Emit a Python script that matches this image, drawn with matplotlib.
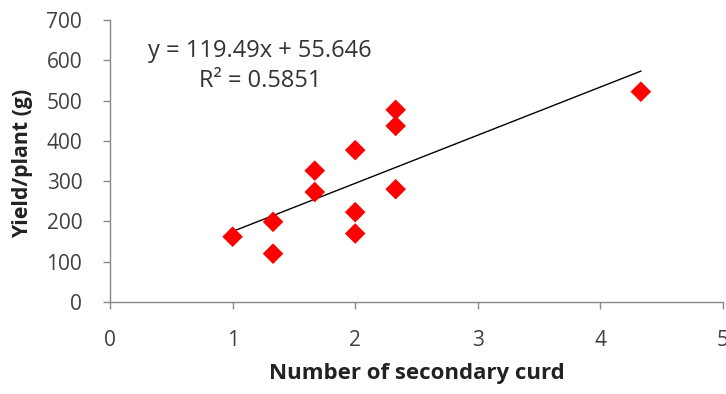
import matplotlib
matplotlib.use("Agg")
import matplotlib.pyplot as plt
import numpy as np

plt.rcParams['font.family'] = ['Open Sans', 'DejaVu Sans']

x_vals = [1.0, 1.33, 1.33, 1.67, 1.67, 2.0, 2.0, 2.0, 2.33, 2.33, 2.33, 4.33]
y_vals = [162, 199, 120, 326, 273, 377, 223, 170, 477, 437, 280, 522]
slope = 119.49
intercept = 55.646
r2 = 0.5851
x_ticks = [0, 1, 2, 3, 4, 5]
y_ticks = [0, 100, 200, 300, 400, 500, 600, 700]

fig = plt.figure(figsize=(7.26, 3.94), dpi=100)
ax = fig.add_axes([110/726, 1 - 302/394, (723 - 110)/726, (302 - 20)/394])

ax.scatter(x_vals, y_vals, marker='D', s=10.5**2, color='#ff0000', edgecolors='none', zorder=3)
xl = np.array([min(x_vals), max(x_vals)])
ax.plot(xl, slope * xl + intercept, color='black', lw=1.0, zorder=2)

ax.set_xlim(0, 5)
ax.set_ylim(0, 700)
ax.set_xticks(x_ticks)
ax.set_yticks(y_ticks)
for s in ['top', 'right']:
    ax.spines[s].set_visible(False)
for s in ['left', 'bottom']:
    ax.spines[s].set_color('#888888')
    ax.spines[s].set_linewidth(1.0)
ax.tick_params(axis='both', colors='#888888', labelcolor='#404040', labelsize=15,
               length=5, width=1.0, direction='out')
ax.tick_params(axis='x', pad=15)
ax.tick_params(axis='y', pad=15)

ax.set_xlabel('Number of secondary curd', fontsize=16, fontweight='bold', color='#222222', va='center')
ax.xaxis.set_label_coords(0.5, (302 - 373) / 282)
ax.set_ylabel('Yield/plant (g)', fontsize=15.3, fontweight='bold', color='#222222', va='center')
ax.yaxis.set_label_coords((23 - 110) / 613, 0.49)

ax.text(260/726, 1 - 51/394, f'y = {slope}x + {intercept}', transform=fig.transFigure,
        ha='center', va='center', fontsize=17, color='#333333')
ax.text(260/726, 1 - 81/394, f'R\u00b2 = {r2}', transform=fig.transFigure,
        ha='center', va='center', fontsize=17, color='#333333')

fig.savefig('out.png', dpi=100)
